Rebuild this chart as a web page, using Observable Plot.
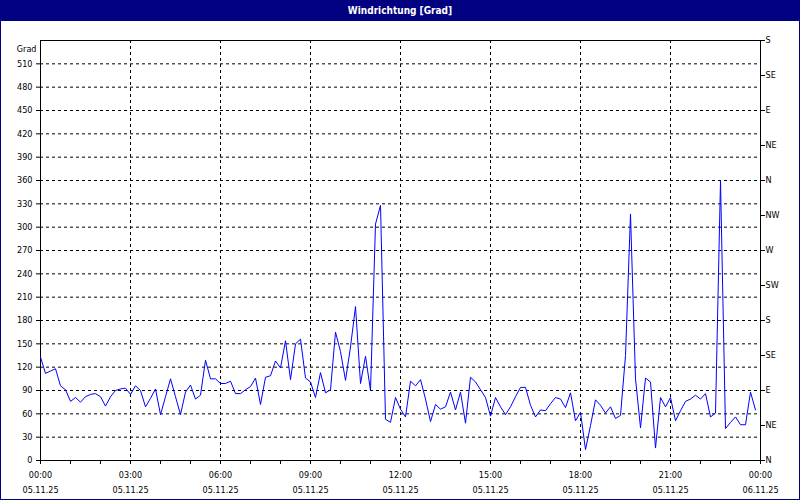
<!DOCTYPE html>
<html><head><meta charset="utf-8">
<script src="https://cdn.jsdelivr.net/npm/d3@7"></script>
<script src="https://cdn.jsdelivr.net/npm/@observablehq/plot@0.6"></script>
<style>
html,body{margin:0;padding:0;background:#fff;}
#wrap{position:relative;width:800px;height:500px;overflow:hidden;background:#fff;font-family:"DejaVu Sans Condensed","DejaVu Sans",sans-serif;}
#title{height:21px;background:#000080;color:#fff;font-weight:bold;font-size:10px;line-height:21px;text-align:center;}
#chart svg{display:block;}
#border{position:absolute;left:0;top:0;width:800px;height:500px;box-sizing:border-box;border:1px solid #000080;border-top:none;pointer-events:none;}
</style></head>
<body><div id="wrap"><div id="title">Windrichtung [Grad]</div><div id="chart"></div><div id="border"></div></div>
<script>
// Wind direction readings every 10 minutes, 05.11.25 00:00 .. 23:50
const stepMinutes = 10;
const direction = [
  133,112,115,118,96,91,76,81,75,82,85,86,82,70,82,90,92,93,
  85,96,90,69,80,92,59,82,105,82,59,88,97,79,84,129,105,105,
  99,99,102,86,86,91,95,106,72,107,109,128,119,154,104,150,156,106,
  101,81,113,87,91,165,140,103,146,198,99,134,90,304,328,53,49,81,
  66,56,102,96,104,79,50,72,66,69,88,65,88,48,107,101,91,81,
  57,81,69,59,69,82,94,94,71,56,65,64,73,81,79,68,87,51,
  62,14,45,78,71,61,69,54,58,135,317,105,42,106,101,16,81,69,
  81,51,64,76,79,84,79,86,56,61,360,41,49,56,46,46,88,65
];
const gradTicks = [0,30,60,90,120,150,180,210,240,270,300,330,360,390,420,450,480,510];
const compassTicks = [0,45,90,135,180,225,270,315,360,405,450,495,540];
const compassLabels = ["N","NE","E","SE","S","SW","W","NW","N","NE","E","SE","S"];
const timeTicks = [0,180,360,540,720,900,1080,1260,1440];
const timeLabels = ["00:00","03:00","06:00","09:00","12:00","15:00","18:00","21:00","00:00"];
const dateLabels = ["05.11.25","05.11.25","05.11.25","05.11.25","05.11.25","05.11.25","05.11.25","05.11.25","06.11.25"];
const hourTicks = [0,60,120,180,240,300,360,420,480,540,600,660,720,780,840,900,960,1020,1080,1140,1200,1260,1320,1380,1440];

const data = direction.map((v, i) => ({t: i * stepMinutes, v}));
const innerGridY = gradTicks.filter(d => d > 0);
const innerGridX = timeTicks.filter(d => d > 0 && d < 1440);

const chart = Plot.plot({
  width: 800,
  height: 479,
  marginTop: 19,
  marginBottom: 40,
  marginLeft: 40,
  marginRight: 40,
  style: {fontFamily: '"DejaVu Sans Condensed","DejaVu Sans",sans-serif', fontSize: "9px", color: "#000", background: "#fff"},
  x: {domain: [0, 1440]},
  y: {domain: [0, 540]},
  marks: [
    Plot.gridY(innerGridY, {stroke: "#000", strokeOpacity: 1, strokeDasharray: "3,3"}),
    Plot.gridX(innerGridX, {stroke: "#000", strokeOpacity: 1, strokeDasharray: "3,3"}),
    Plot.frame({stroke: "#000"}),
    Plot.axisY(gradTicks, {anchor: "left", tickSize: 4, tickPadding: 4, label: null, fontSize: 9}),
    Plot.axisY(compassTicks, {anchor: "right", tickSize: 4, tickPadding: 1, label: null, fontSize: 9,
      tickFormat: d => compassLabels[compassTicks.indexOf(d)]}),
    Plot.axisX(hourTicks, {anchor: "bottom", tickSize: 4, tickPadding: 3, label: null, fontSize: 9, lineHeight: 1.65,
      tickFormat: d => {
        const k = timeTicks.indexOf(d);
        return k < 0 ? "" : timeLabels[k] + "\n" + dateLabels[k];
      }}),
    Plot.text(["Grad"], {frameAnchor: "top-left", dx: -4, dy: 5, textAnchor: "end", fontSize: 9}),
    Plot.line(data, {x: "t", y: "v", stroke: "#0000ff", strokeWidth: 1})
  ]
});
document.getElementById("chart").appendChild(chart);
</script>
</body></html>
